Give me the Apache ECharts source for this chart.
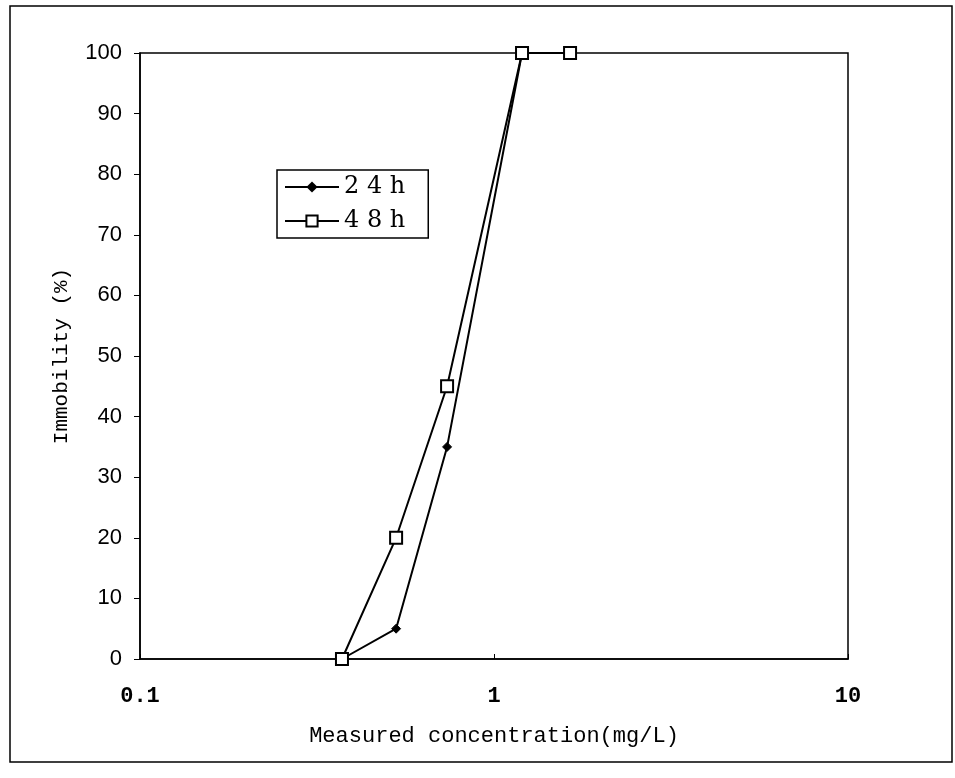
<!DOCTYPE html>
<html>
<head>
<meta charset="utf-8">
<script src="https://cdn.jsdelivr.net/npm/echarts@6/dist/echarts.min.js"></script>
<style>
html,body{margin:0;padding:0;background:#fff;}
#chart{width:955px;height:778px;}
</style>
</head>
<body>
<div id="chart"></div>
<script>
// Data
const conc24 = [0.372, 0.529, 0.737, 1.20, 1.64];
const immob24 = [0, 5, 35, 100, 100];
const conc48 = [0.372, 0.529, 0.737, 1.20, 1.64];
const immob48 = [0, 20, 45, 100, 100];
const seriesNames = ['2 4 h', '4 8 h'];
const xTickLabels = {0.1: '0.1', 1: '1', 10: '10'};

const pairs = (xs, ys) => xs.map((x, i) => [x, ys[i]]);

const chart = echarts.init(document.getElementById('chart'), null, {renderer: 'canvas'});
chart.setOption({
  animation: false,
  backgroundColor: '#fff',
  grid: {
    left: 140, right: 107, top: 53, bottom: 119,
    show: true, borderColor: '#000', borderWidth: 1.5, backgroundColor: 'transparent'
  },
  graphic: [{
    type: 'rect', silent: true,
    shape: {x: 10, y: 6, width: 942, height: 756},
    style: {fill: 'none', stroke: '#000', lineWidth: 1.5}
  }],
  legend: {
    left: 277, top: 170,
    orient: 'vertical',
    borderColor: '#000', borderWidth: 1.5,
    padding: [5, 23, 5, 7],
    itemWidth: 54, itemHeight: 14, itemGap: 10,
    textStyle: {fontFamily: 'DejaVu Serif', fontSize: 24, color: '#000'},
    data: seriesNames
  },
  xAxis: {
    type: 'log', logBase: 10, min: 0.1, max: 10,
    name: 'Measured concentration(mg/L)',
    nameLocation: 'middle', nameGap: 66,
    nameTextStyle: {fontFamily: 'Liberation Mono', fontSize: 22, color: '#000'},
    axisLine: {lineStyle: {color: '#000', width: 1.5}},
    axisTick: {inside: true, length: 5, lineStyle: {color: '#000'}},
    minorTick: {show: false},
    splitLine: {show: false},
    axisLabel: {
      margin: 26, color: '#000', fontFamily: 'Liberation Mono', fontSize: 22, fontWeight: 'bold',
      formatter: v => xTickLabels[v] !== undefined ? xTickLabels[v] : String(v)
    }
  },
  yAxis: {
    type: 'value', min: 0, max: 100, interval: 10,
    name: 'Immobility (%)',
    nameLocation: 'middle', nameGap: 68,
    nameTextStyle: {fontFamily: 'Liberation Mono', fontSize: 21, color: '#000'},
    axisLine: {show: true, lineStyle: {color: '#000', width: 1.5}},
    axisTick: {show: true, length: 6, lineStyle: {color: '#000'}},
    splitLine: {show: false},
    axisLabel: {margin: 18, color: '#000', fontFamily: 'Liberation Sans', fontSize: 22}
  },
  series: [
    {
      name: seriesNames[0], type: 'line',
      data: pairs(conc24, immob24),
      symbol: 'diamond', symbolSize: 9,
      lineStyle: {color: '#000', width: 2},
      itemStyle: {color: '#000', borderColor: '#000'},
      z: 2
    },
    {
      name: seriesNames[1], type: 'line',
      data: pairs(conc48, immob48),
      symbol: 'rect', symbolSize: 12,
      lineStyle: {color: '#000', width: 2},
      itemStyle: {color: '#fff', borderColor: '#000', borderWidth: 2},
      z: 3
    }
  ]
});
</script>
</body>
</html>
